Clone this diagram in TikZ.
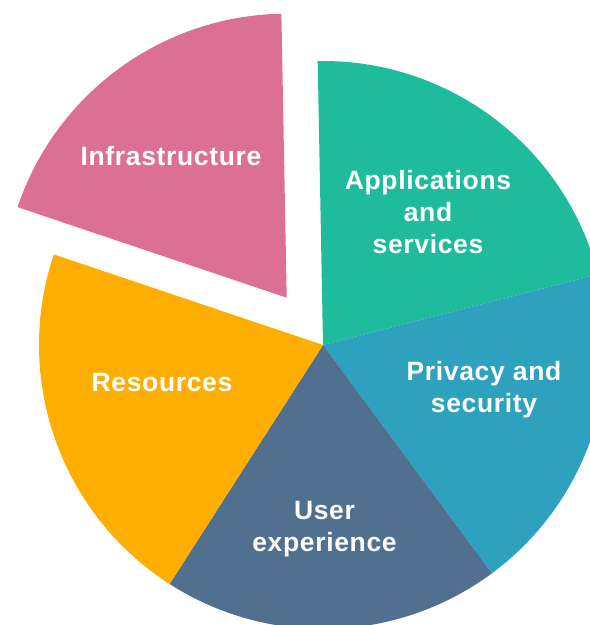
\documentclass[tikz,border=0pt]{standalone}
\usepackage{fontspec}
\setmainfont{Liberation Sans}[LetterSpace=2.5]
\definecolor{pinkc}{RGB}{220,112,148}
\definecolor{tealc}{RGB}{30,188,156}
\definecolor{bluec}{RGB}{45,161,190}
\definecolor{slatec}{RGB}{81,112,143}
\definecolor{orangec}{RGB}{254,174,0}
\begin{document}
\begin{tikzpicture}[x=1pt,y=1pt,
  lbl/.style={text=white, font=\bfseries\fontsize{26.5}{32}\selectfont, align=center, inner sep=0pt}]
\useasboundingbox (0,0) rectangle (590,-625);
\clip (0,0) rectangle (590,-625);
\def\R{284}
\coordinate (c) at (323,-345);
\coordinate (ci) at (286.7,-297.7);
% slices
\fill[tealc]   (c) -- ++(14.4:\R)   arc[start angle=14.4,  end angle=91.07, radius=\R] -- cycle;
\fill[bluec]   (c) -- ++(-53.5:\R)  arc[start angle=-53.5, end angle=14.4,  radius=\R] -- cycle;
\fill[slatec]  (c) -- ++(-122.7:\R) arc[start angle=-122.7,end angle=-53.5, radius=\R] -- cycle;
\fill[orangec] (c) -- ++(161.4:\R)  arc[start angle=161.4, end angle=237.3, radius=\R] -- cycle;
\fill[pinkc]   (ci) -- ++(91.07:\R) arc[start angle=91.07, end angle=161.4, radius=\R] -- cycle;
% labels
\node[lbl, anchor=base]  (infra) at (171,-165.7) {Infrastructure};
\node[lbl, anchor=north] (apps)  at (428,-170) {Applications\\and\\services};
\node[lbl, anchor=north] (priv)  at (484,-361) {Privacy and\\security};
\node[lbl, anchor=north] (user)  at (324.5,-501) {User\\experience};
\node[lbl, anchor=base]  (res)   at (162,-391.7) {Resources};
\end{tikzpicture}
\end{document}
